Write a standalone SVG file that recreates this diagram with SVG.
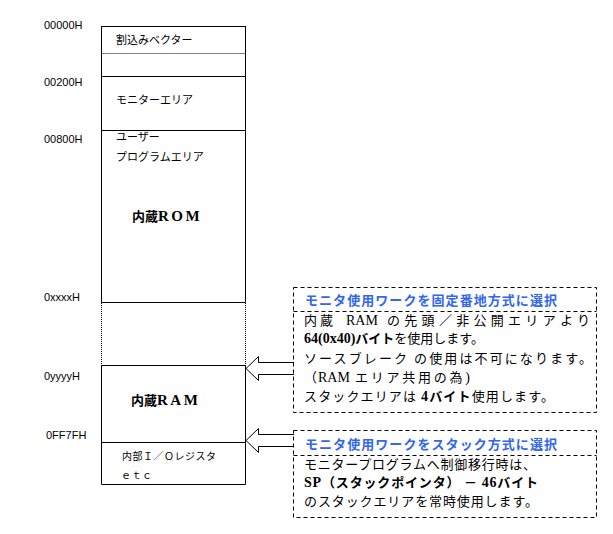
<svg xmlns="http://www.w3.org/2000/svg" width="613" height="534" viewBox="0 0 613 534">
<style>
.addr{font-family:"Liberation Sans",Arial,sans-serif;font-size:11px;fill:#000}
.jp{font-family:"Noto Sans CJK JP",sans-serif;font-size:11px;fill:#000}
.big{font-family:"Noto Sans CJK JP",sans-serif;font-size:13px;font-weight:bold;fill:#000}
.ser{font-family:"Liberation Serif","Noto Sans CJK JP",serif;font-size:15px;font-weight:bold;letter-spacing:2.5px}
.hdr{font-family:"Noto Sans CJK JP",sans-serif;font-size:13px;font-weight:bold;fill:#3366ee}
.body{font-family:"Noto Sans CJK JP",sans-serif;font-size:13px;fill:#000}
.lat{font-family:"Liberation Serif","Noto Sans CJK JP",serif;font-size:14px}
.b{font-weight:bold}
.ln{stroke:#000;stroke-width:1;fill:none}
.dot{stroke:#000;stroke-width:1;fill:none;stroke-dasharray:1 1}
.dash{stroke:#000;stroke-width:1;fill:none;stroke-dasharray:4 3}
.arrow{stroke:#000;stroke-width:1;fill:#fff}
</style>
<rect width="613" height="534" fill="#fff"/>

<g id="address-labels">
<text class="addr" x="44" y="29">00000H</text>
<text class="addr" x="44" y="86">00200H</text>
<text class="addr" x="44" y="143">00800H</text>
<text class="addr" x="44" y="301">0xxxxH</text>
<text class="addr" x="44" y="380">0yyyyH</text>
<text class="addr" x="46" y="439">0FF7FH</text>
</g>

<g id="region-vector">
<path class="ln" d="M101.5,26.5 H245.5"/>
<path class="dot" d="M101.5,53.5 H245.5"/>
<text class="jp" x="116" y="44">割込みベクター</text>
</g>

<g id="region-monitor">
<path class="ln" d="M101.5,76.5 H245.5"/>
<text class="jp" x="116" y="104">モニターエリア</text>
</g>

<g id="region-rom">
<path class="ln" d="M101.5,130.5 H245.5"/>
<path class="ln" d="M101.5,26 V302.5 M245.5,26 V302.5"/>
<text class="jp" x="116" y="141">ユーザー</text>
<text class="jp" x="116" y="161">プログラムエリア</text>
<text x="132" y="221"><tspan class="big">内蔵</tspan><tspan class="ser">ROM</tspan></text>
<path class="ln" d="M101.5,302.5 H245.5"/>
</g>

<g id="region-gap">
<path class="dot" d="M101.5,303 V365 M245.5,303 V365"/>
</g>

<g id="region-ram">
<path class="ln" d="M101.5,365.5 H245.5 M101.5,365 V484.5 M245.5,365 V484.5"/>
<text x="131" y="405"><tspan class="big">内蔵</tspan><tspan class="ser">RAM</tspan></text>
</g>

<g id="region-io">
<path class="ln" d="M101.5,442.5 H245.5 M101.5,484.5 H245.5"/>
<text class="jp" x="122" y="460" style="font-size:10px" textLength="94">内部Ｉ／Ｏレジスタ</text>
<text class="jp" x="121" y="479" style="font-size:10px" textLength="31">ｅｔｃ</text>
</g>

<g id="connectors">
<path class="arrow" d="M294,362.5 H258.5 V356.5 L246,368.5 L258.5,380.5 V374.5 H294"/>
<path class="arrow" d="M294,434.5 H258.5 V428.5 L246,440.5 L258.5,452.5 V446.5 H294"/>
</g>

<g id="note-fixed">
<rect class="dash" x="293.5" y="287.5" width="303" height="125"/>
<path class="dash" d="M293.5,311.5 H596.5"/>
<text class="hdr" x="305" y="305" textLength="252">モニタ使用ワークを固定番地方式に選択</text>
<text class="body" y="325"><tspan x="304" letter-spacing="3">内蔵</tspan><tspan class="lat" x="346">RAM</tspan></text>
<text class="body" x="387" y="325" textLength="203">の先頭／非公開エリアより</text>
<text class="body" x="304" y="343"><tspan class="lat b">64(0x40)</tspan><tspan class="b">バイト</tspan>を使用します。</text>
<text class="body" x="304" y="363" textLength="288">ソースブレーク の使用は不可になります。</text>
<text class="body" y="382"><tspan x="304">（</tspan><tspan class="lat" x="318">RAM</tspan></text>
<text class="body" x="355" y="382" textLength="115">エリア共用の為<tspan class="lat">)</tspan></text>
<text class="body" x="304" y="401" textLength="250">スタックエリアは <tspan class="lat b">4</tspan><tspan class="b">バイト</tspan>使用します。</text>
</g>

<g id="note-stack">
<rect class="dash" x="293.5" y="430.5" width="303" height="87"/>
<path class="dash" d="M293.5,455.5 H596.5"/>
<text class="hdr" x="305" y="449" textLength="252">モニタ使用ワークをスタック方式に選択</text>
<text class="body" x="304" y="469" textLength="232">モニタープログラムへ制御移行時は、</text>
<text class="body b" x="304" y="487" textLength="234"><tspan class="lat">SP</tspan>（スタックポインタ） － <tspan class="lat">46</tspan>バイト</text>
<text class="body" x="304" y="506" textLength="234">のスタックエリアを常時使用します。</text>
</g>
</svg>
